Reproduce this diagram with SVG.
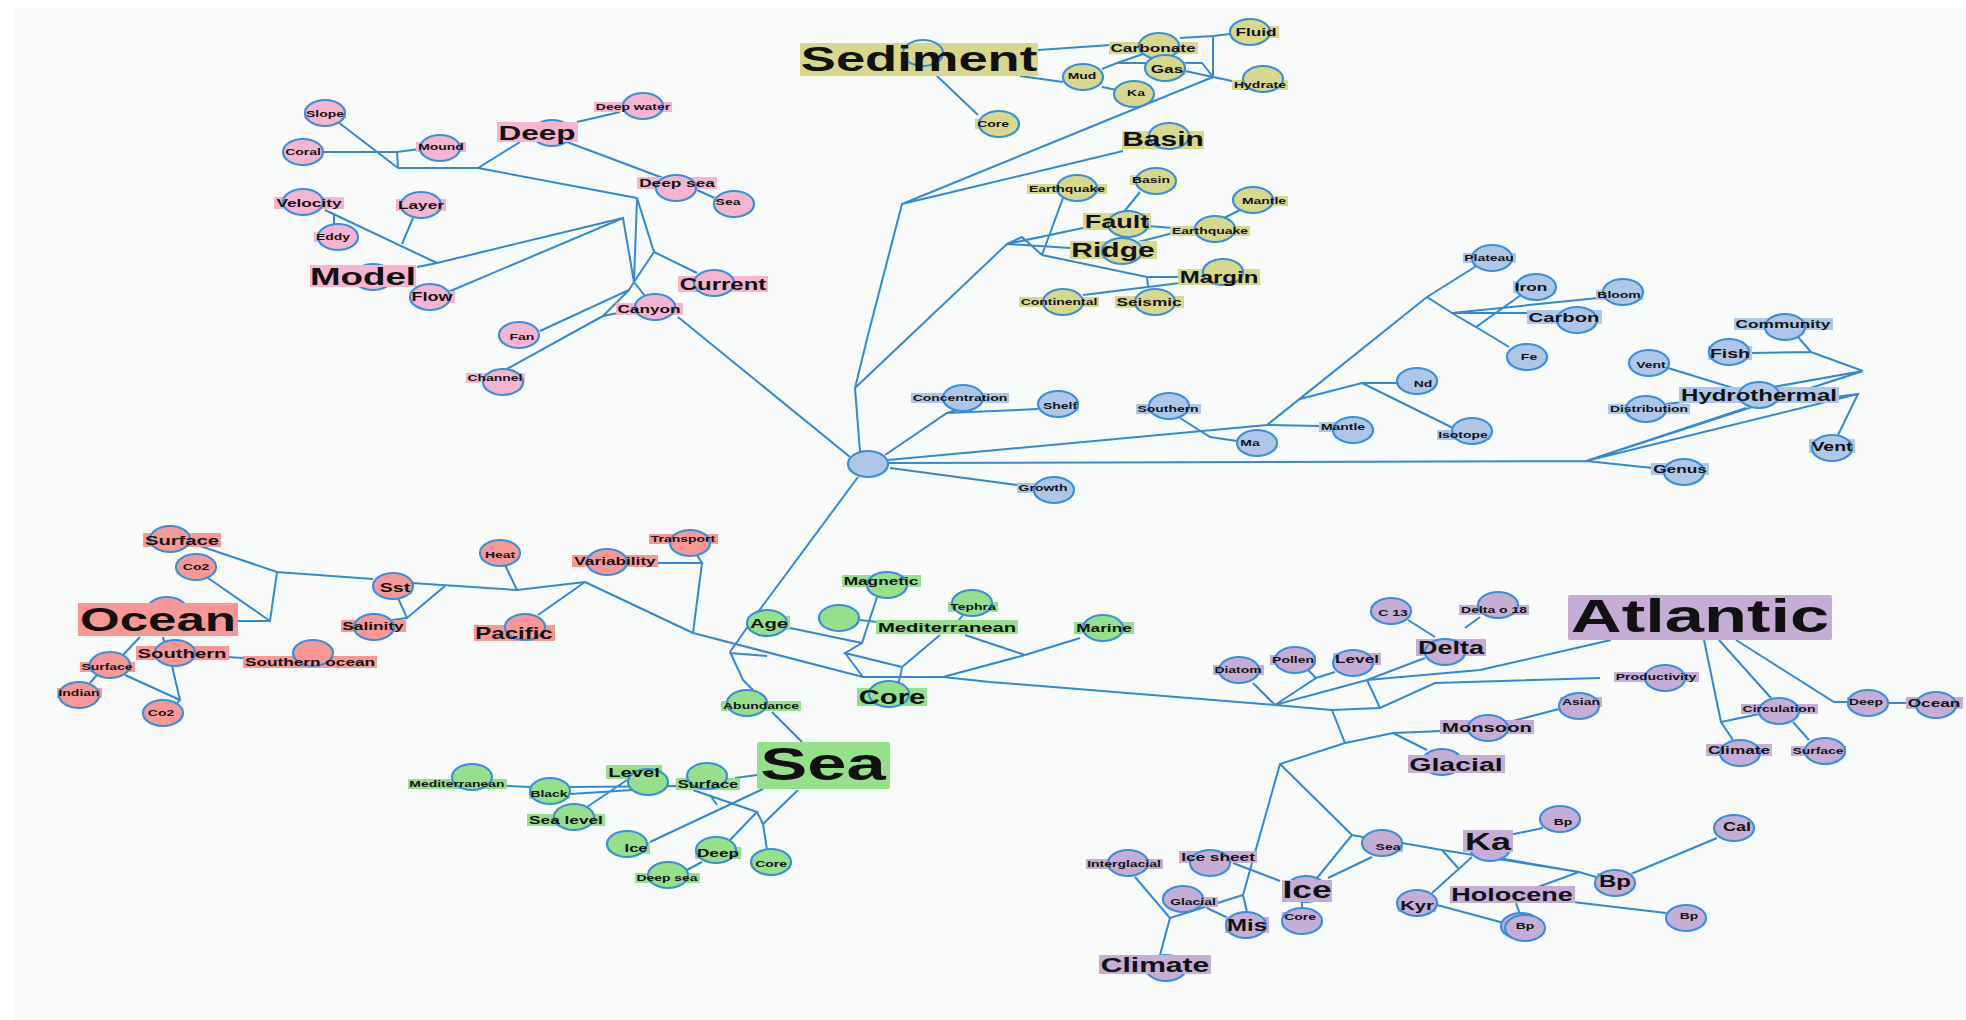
<svg xmlns="http://www.w3.org/2000/svg" width="1966" height="1020" viewBox="0 0 1966 1020">
<style>
text{font-family:"Liberation Sans",Arial,sans-serif;font-weight:bold;text-anchor:middle;fill:#111}
ellipse{stroke:#3a8edc;stroke-width:2.2}
#edges path{fill:none;stroke:#3388d4;stroke-width:2}
.pk ellipse,.pk rect{fill:#f5b5d0}
.yl ellipse,.yl rect{fill:#d8d88c}
.bl ellipse,.bl rect{fill:#aec7e9}
.sa ellipse,.sa rect{fill:#f89896}
.gr ellipse,.gr rect{fill:#96e08c}
.pu ellipse,.pu rect{fill:#c5add5}
.f9{font-size:9.3px}.f11{font-size:11.5px}.f12{font-size:12px}.f13{font-size:13px}.f135{font-size:13.5px}.f16{font-size:16px}.f18{font-size:18px}.f20{font-size:20px}
</style>
<rect width="1966" height="1020" fill="#ffffff"/>
<rect x="15" y="8" width="1951" height="1012" fill="#f9fbfb"/>
<g id="edges">
<path d="M338,122 L398,168 M323,152 L397,152 L420,149 M397,152 L398,168 M398,168 L478,168 L520,142 M478,168 L637,198 M577,122 L620,112 M567,142 L663,178 M697,190 L717,199 M637,198 L654,252 L697,273 M654,252 L634,282 M637,198 L634,282 M325,210 L437,263 M334,215 L334,228 M413,218 L402,244 M417,267 L437,263 L623,218 M448,292 L623,218 L634,282 M634,282 L629,290 L540,331 M634,282 L645,296 M629,290 L603,316 L618,313 M603,316 L505,370 M678,317 L850,457"/>
<path d="M937,76 L978,115 M860,452 L855,388 L868,335 L902,204 L1213,77 M902,204 L1123,151 M1038,50 L1140,43 M1020,76 L1063,82 M1102,69 L1117,63 L1143,54 M1117,63 L1202,63 L1213,77 M1180,38 L1213,36 L1230,34 M1213,36 L1213,77 M1185,71 L1213,77 L1237,82 M1102,87 L1117,90 M855,388 L1007,244 L1083,228 M1007,244 L1022,237 L1042,255 M1007,244 L1070,248 M1042,255 L1063,198 M1042,255 L1147,277 L1180,277 M1147,277 L1148,287 M1083,295 L1180,283 M1140,192 L1123,213 M1148,226 L1197,230 M1138,242 L1173,233 M1220,220 L1240,210"/>
<path d="M885,455 L947,413 L957,410 M947,413 L1038,409 M888,460 L1267,425 L1320,426 M1180,418 L1210,437 L1237,441 M1267,425 L1427,297 M1300,399 L1362,383 L1397,383 M1362,383 L1453,428 M1427,297 L1478,265 M1427,297 L1452,313 L1598,298 M1452,313 L1529,313 M1452,313 L1476,327 L1521,295 M1476,327 L1509,347 M888,463 L1586,461 M890,468 L1017,485 M1586,461 L1653,468 M1586,461 L1746,408 M1586,461 L1863,371 M1586,461 L1858,394 M1863,371 L1773,387 M1863,371 L1811,352 L1751,353 M1811,352 L1798,337 M1668,368 L1733,388 M1666,404 L1683,402 M1836,397 L1858,394 L1838,435"/>
<path d="M200,546 L277,572 M208,578 L270,621 M238,621 L270,621 L277,572 L373,579 M412,583 L517,590 L585,582 M505,565 L517,590 M398,598 L407,618 L445,586 M392,620 L407,618 M585,582 L538,615 M585,582 L693,633 M657,563 L702,563 L697,555 M702,563 L693,633 M140,637 L123,655 M163,637 L165,645 M227,657 L243,658 M97,675 L90,683 M125,675 L180,700 M172,666 L180,700 L177,703"/>
<path d="M858,477 L758,612 L730,652 L743,680 L753,690 M772,712 L802,742 M693,633 L863,677 M730,653 L767,656 M790,628 L862,643 M877,597 L862,643 L845,653 L902,667 M845,653 L863,677 M940,635 L902,667 L900,678 M863,677 L900,677 L943,677 L990,682 L1275,705 M900,677 L897,687 M943,677 L1025,655 M1080,638 L1025,655 M965,635 L1025,655 M963,615 L955,625 M860,620 L877,622 M757,775 L735,778 M763,789 L650,842 M798,790 L763,824 L767,850 M693,790 L757,812 L730,840 M757,812 L763,824 M710,795 L717,805 M627,780 L587,807 M490,785 L530,787 M570,787 L688,786 M570,794 L633,790 M702,862 L687,870"/>
<path d="M1253,683 L1275,705 L1367,680 L1425,658 M1367,680 L1480,670 L1611,640 M1367,680 L1380,708 M1275,705 L1332,710 L1380,708 L1435,683 L1600,678 M1275,705 L1316,678 L1308,670 M1316,678 L1335,672 M1408,620 L1435,637 M1465,628 L1480,617 M1332,710 L1345,743 L1393,733 L1442,731 M1393,733 L1427,750 M1345,743 L1280,764 L1243,895 L1247,912 M1280,764 L1352,835 L1363,837 M1352,835 L1317,878 M1372,857 L1328,878 M1402,843 L1442,850 L1579,872 L1596,877 M1442,850 L1458,868 M1432,893 L1472,857 M1493,857 L1579,872 M1509,835 L1543,828 M1538,887 L1579,872 M1631,874 L1717,838 M1573,902 L1666,913 M1516,903 L1521,917 M1437,905 L1504,923 M1233,863 L1280,881 M1135,877 L1170,918 L1160,955 M1170,918 L1243,895 M1207,908 L1228,918 M1302,902 L1302,908 M1704,640 L1721,722 L1733,740 M1721,722 L1759,714 M1719,640 L1771,698 M1736,640 L1834,702 L1848,702 M1888,703 L1908,703 M1793,722 L1809,740 M1509,722 L1559,709"/>
</g>
<g id="nodes">
<g id="n-slope" class="pk"><rect x="304" y="109" width="42" height="10"/><ellipse cx="325" cy="113" rx="20" ry="13"/><text class="f9" transform="matrix(1.5 0 0 1 325 117.3)">Slope</text></g>
<g id="n-coral" class="pk"><rect x="283" y="147" width="40" height="10"/><ellipse cx="303" cy="152" rx="20" ry="13"/><text class="f9" transform="matrix(1.5 0 0 1 303 155.3)">Coral</text></g>
<g id="n-mound" class="pk"><rect x="416" y="142" width="50" height="10"/><ellipse cx="440" cy="148" rx="20" ry="13"/><text class="f9" transform="matrix(1.5 0 0 1 441 150.3)">Mound</text></g>
<g id="n-deep" class="pk"><ellipse cx="552" cy="133" rx="20" ry="13"/><rect x="497" y="122" width="81" height="20"/><text style="font-size:21px" transform="matrix(1.5 0 0 1 537 139.6)">Deep</text></g>
<g id="n-deepwater" class="pk"><rect x="594" y="102" width="78" height="10"/><ellipse cx="643" cy="106" rx="20" ry="13"/><text class="f9" transform="matrix(1.5 0 0 1 633 110.3)">Deep water</text></g>
<g id="n-deepsea" class="pk"><rect x="637" y="177" width="80" height="12"/><ellipse cx="676" cy="188" rx="20" ry="13"/><text class="f11" transform="matrix(1.5 0 0 1 677 187.1)">Deep sea</text></g>
<g id="n-sea-pk" class="pk"><rect x="714" y="197" width="29" height="10"/><ellipse cx="734" cy="204" rx="20" ry="13"/><text class="f9" transform="matrix(1.5 0 0 1 728 205.3)">Sea</text></g>
<g id="n-velocity" class="pk"><rect x="274" y="197" width="70" height="12"/><ellipse cx="303" cy="202" rx="20" ry="13"/><text class="f11" transform="matrix(1.5 0 0 1 309 207.1)">Velocity</text></g>
<g id="n-layer" class="pk"><rect x="396" y="199" width="50" height="12"/><ellipse cx="421" cy="205" rx="20" ry="13"/><text class="f11" transform="matrix(1.5 0 0 1 421 209.1)">Layer</text></g>
<g id="n-eddy" class="pk"><rect x="314" y="232" width="38" height="10"/><ellipse cx="338" cy="237" rx="20" ry="13"/><text class="f9" transform="matrix(1.5 0 0 1 333 240.3)">Eddy</text></g>
<g id="n-model" class="pk"><ellipse cx="373" cy="277" rx="20" ry="13"/><rect x="310" y="265" width="106" height="22"/><text style="font-size:24.5px" transform="matrix(1.5 0 0 1 363 284.8)">Model</text></g>
<g id="n-flow" class="pk"><rect x="410" y="291" width="45" height="12"/><ellipse cx="430" cy="297" rx="20" ry="13"/><text class="f12" transform="matrix(1.5 0 0 1 432 301.3)">Flow</text></g>
<g id="n-current" class="pk"><rect x="678" y="276" width="90" height="16"/><ellipse cx="714" cy="283" rx="20" ry="13"/><text class="f16" transform="matrix(1.5 0 0 1 723 289.8)">Current</text></g>
<g id="n-canyon" class="pk"><rect x="616" y="303" width="67" height="12"/><ellipse cx="655" cy="307" rx="20" ry="13"/><text class="f11" transform="matrix(1.5 0 0 1 649 313.1)">Canyon</text></g>
<g id="n-fan" class="pk"><rect x="508" y="332" width="29" height="10"/><ellipse cx="519" cy="335" rx="20" ry="13"/><text class="f9" transform="matrix(1.5 0 0 1 522 340.3)">Fan</text></g>
<g id="n-channel" class="pk"><rect x="466" y="373" width="59" height="10"/><ellipse cx="503" cy="382" rx="20" ry="13"/><text class="f9" transform="matrix(1.5 0 0 1 495 381.3)">Channel</text></g>

<g id="n-sediment" class="yl"><rect x="800" y="43" width="238" height="33"/><ellipse cx="923" cy="53" rx="20" ry="13" fill="none" style="fill:none"/><text style="font-size:35px" transform="matrix(1.5 0 0 1 919 70.6)">Sediment</text></g>
<g id="n-carbonate" class="yl"><rect x="1109" y="42" width="89" height="12"/><ellipse cx="1159" cy="46" rx="20" ry="13"/><text class="f11" transform="matrix(1.5 0 0 1 1153 52.1)">Carbonate</text></g>
<g id="n-fluid" class="yl"><rect x="1234" y="26" width="45" height="12"/><ellipse cx="1250" cy="32" rx="20" ry="13"/><text class="f11" transform="matrix(1.5 0 0 1 1256 36.1)">Fluid</text></g>
<g id="n-gas" class="yl"><rect x="1149" y="63" width="37" height="12"/><ellipse cx="1165" cy="68" rx="20" ry="13"/><text class="f11" transform="matrix(1.5 0 0 1 1167 73.1)">Gas</text></g>
<g id="n-mud" class="yl"><rect x="1066" y="71" width="33" height="10"/><ellipse cx="1083" cy="77" rx="20" ry="13"/><text class="f9" transform="matrix(1.5 0 0 1 1082 79.3)">Mud</text></g>
<g id="n-ka-yl" class="yl"><rect x="1125" y="88" width="22" height="10"/><ellipse cx="1134" cy="94" rx="20" ry="13"/><text class="f9" transform="matrix(1.5 0 0 1 1136 96.3)">Ka</text></g>
<g id="n-hydrate" class="yl"><rect x="1232" y="80" width="56" height="10"/><ellipse cx="1263" cy="79" rx="20" ry="13"/><text class="f9" transform="matrix(1.5 0 0 1 1260 88.3)">Hydrate</text></g>
<g id="n-core-yl" class="yl"><rect x="975" y="119" width="36" height="10"/><ellipse cx="999" cy="124" rx="20" ry="13"/><text class="f9" transform="matrix(1.5 0 0 1 993 127.3)">Core</text></g>
<g id="n-basin" class="yl"><rect x="1122" y="131" width="82" height="18"/><ellipse cx="1169" cy="136" rx="20" ry="13"/><text class="f20" transform="matrix(1.5 0 0 1 1163 146.2)">Basin</text></g>
<g id="n-earthquake1" class="yl"><rect x="1027" y="184" width="80" height="10"/><ellipse cx="1077" cy="188" rx="20" ry="13"/><text class="f9" transform="matrix(1.5 0 0 1 1067 192.3)">Earthquake</text></g>
<g id="n-basin2" class="yl"><rect x="1130" y="175" width="42" height="10"/><ellipse cx="1156" cy="181" rx="20" ry="13"/><text class="f9" transform="matrix(1.5 0 0 1 1151 183.3)">Basin</text></g>
<g id="n-mantle-yl" class="yl"><rect x="1240" y="196" width="48" height="10"/><ellipse cx="1253" cy="200" rx="20" ry="13"/><text class="f9" transform="matrix(1.5 0 0 1 1264 204.3)">Mantle</text></g>
<g id="n-fault" class="yl"><rect x="1083" y="213" width="68" height="17"/><ellipse cx="1128" cy="224" rx="20" ry="13"/><text class="f18" transform="matrix(1.5 0 0 1 1117 227.5)">Fault</text></g>
<g id="n-earthquake2" class="yl"><rect x="1170" y="226" width="80" height="10"/><ellipse cx="1215" cy="229" rx="20" ry="13"/><text class="f9" transform="matrix(1.5 0 0 1 1210 234.3)">Earthquake</text></g>
<g id="n-ridge" class="yl"><rect x="1070" y="241" width="87" height="18"/><ellipse cx="1122" cy="251" rx="20" ry="13"/><text class="f20" transform="matrix(1.5 0 0 1 1113 257.2)">Ridge</text></g>
<g id="n-margin" class="yl"><rect x="1178" y="269" width="82" height="16"/><ellipse cx="1223" cy="272" rx="20" ry="13"/><text class="f16" transform="matrix(1.5 0 0 1 1219 282.8)">Margin</text></g>
<g id="n-continental" class="yl"><rect x="1019" y="297" width="80" height="10"/><ellipse cx="1063" cy="302" rx="20" ry="13"/><text class="f9" transform="matrix(1.5 0 0 1 1059 305.3)">Continental</text></g>
<g id="n-seismic" class="yl"><rect x="1115" y="296" width="69" height="12"/><ellipse cx="1155" cy="302" rx="20" ry="13"/><text class="f11" transform="matrix(1.5 0 0 1 1149 306.1)">Seismic</text></g>

<g id="n-center" class="bl"><ellipse cx="868" cy="464" rx="20" ry="13"/></g>
<g id="n-concentration" class="bl"><rect x="911" y="393" width="98" height="10"/><ellipse cx="963" cy="398" rx="20" ry="13"/><text class="f9" transform="matrix(1.5 0 0 1 960 401.3)">Concentration</text></g>
<g id="n-shelf" class="bl"><rect x="1041" y="401" width="38" height="10"/><ellipse cx="1058" cy="404" rx="20" ry="13"/><text class="f9" transform="matrix(1.5 0 0 1 1060 409.3)">Shelf</text></g>
<g id="n-southern-bl" class="bl"><rect x="1136" y="404" width="65" height="10"/><ellipse cx="1169" cy="406" rx="20" ry="13"/><text class="f9" transform="matrix(1.5 0 0 1 1168 412.3)">Southern</text></g>
<g id="n-ma" class="bl"><rect x="1239" y="438" width="23" height="10"/><ellipse cx="1257" cy="443" rx="20" ry="13"/><text class="f9" transform="matrix(1.5 0 0 1 1250 446.3)">Ma</text></g>
<g id="n-mantle-bl" class="bl"><rect x="1319" y="422" width="48" height="10"/><ellipse cx="1353" cy="430" rx="20" ry="13"/><text class="f9" transform="matrix(1.5 0 0 1 1343 430.3)">Mantle</text></g>
<g id="n-nd" class="bl"><rect x="1412" y="379" width="22" height="10"/><ellipse cx="1417" cy="381" rx="20" ry="13"/><text class="f9" transform="matrix(1.5 0 0 1 1423 387.3)">Nd</text></g>
<g id="n-isotope" class="bl"><rect x="1437" y="430" width="53" height="10"/><ellipse cx="1472" cy="431" rx="20" ry="13"/><text class="f9" transform="matrix(1.5 0 0 1 1463 438.3)">Isotope</text></g>
<g id="n-growth" class="bl"><rect x="1017" y="483" width="53" height="10"/><ellipse cx="1054" cy="490" rx="20" ry="13"/><text class="f9" transform="matrix(1.5 0 0 1 1043 491.3)">Growth</text></g>
<g id="n-plateau" class="bl"><rect x="1463" y="253" width="53" height="10"/><ellipse cx="1492" cy="258" rx="20" ry="13"/><text class="f9" transform="matrix(1.5 0 0 1 1489 261.3)">Plateau</text></g>
<g id="n-iron" class="bl"><rect x="1513" y="281" width="36" height="12"/><ellipse cx="1536" cy="287" rx="20" ry="13"/><text class="f11" transform="matrix(1.5 0 0 1 1531 291.1)">Iron</text></g>
<g id="n-bloom" class="bl"><rect x="1596" y="290" width="47" height="10"/><ellipse cx="1623" cy="292" rx="20" ry="13"/><text class="f9" transform="matrix(1.5 0 0 1 1619 298.3)">Bloom</text></g>
<g id="n-carbon" class="bl"><rect x="1527" y="310" width="75" height="14"/><ellipse cx="1577" cy="320" rx="20" ry="13"/><text class="f135" transform="matrix(1.5 0 0 1 1564 321.9)">Carbon</text></g>
<g id="n-fe" class="bl"><rect x="1519" y="352" width="20" height="10"/><ellipse cx="1527" cy="357" rx="20" ry="13"/><text class="f9" transform="matrix(1.5 0 0 1 1529 360.3)">Fe</text></g>
<g id="n-community" class="bl"><rect x="1734" y="318" width="99" height="12"/><ellipse cx="1785" cy="327" rx="20" ry="13"/><text class="f11" transform="matrix(1.5 0 0 1 1783 328.1)">Community</text></g>
<g id="n-fish" class="bl"><rect x="1708" y="346" width="44" height="14"/><ellipse cx="1729" cy="352" rx="20" ry="13"/><text class="f13" transform="matrix(1.5 0 0 1 1730 357.7)">Fish</text></g>
<g id="n-vent1" class="bl"><rect x="1634" y="360" width="34" height="10"/><ellipse cx="1649" cy="363" rx="20" ry="13"/><text class="f9" transform="matrix(1.5 0 0 1 1651 368.3)">Vent</text></g>
<g id="n-hydrothermal" class="bl"><rect x="1679" y="387" width="160" height="16"/><ellipse cx="1759" cy="395" rx="20" ry="13"/><text class="f16" transform="matrix(1.5 0 0 1 1759 400.8)">Hydrothermal</text></g>
<g id="n-distribution" class="bl"><rect x="1608" y="404" width="82" height="10"/><ellipse cx="1646" cy="409" rx="20" ry="13"/><text class="f9" transform="matrix(1.5 0 0 1 1649 412.3)">Distribution</text></g>
<g id="n-vent2" class="bl"><rect x="1809" y="439" width="46" height="14"/><ellipse cx="1832" cy="448" rx="20" ry="13"/><text class="f13" transform="matrix(1.5 0 0 1 1832 450.7)">Vent</text></g>
<g id="n-genus" class="bl"><rect x="1651" y="463" width="58" height="12"/><ellipse cx="1684" cy="472" rx="20" ry="13"/><text class="f11" transform="matrix(1.5 0 0 1 1680 473.1)">Genus</text></g>

<g id="n-surface-sa" class="sa"><rect x="143" y="533" width="78" height="14"/><ellipse cx="170" cy="539" rx="20" ry="13"/><text class="f135" transform="matrix(1.5 0 0 1 182 544.9)">Surface</text></g>
<g id="n-co2a" class="sa"><rect x="181" y="562" width="30" height="10"/><ellipse cx="196" cy="567" rx="20" ry="13"/><text class="f9" transform="matrix(1.5 0 0 1 196 570.3)">Co2</text></g>
<g id="n-ocean" class="sa"><ellipse cx="167" cy="610" rx="20" ry="13"/><rect x="78" y="603" width="160" height="33"/><text style="font-size:34px" transform="matrix(1.5 0 0 1 158 631.2)">Ocean</text></g>
<g id="n-southern-sa" class="sa"><rect x="136" y="646" width="93" height="14"/><ellipse cx="175" cy="653" rx="20" ry="13"/><text class="f135" transform="matrix(1.5 0 0 1 182 657.9)">Southern</text></g>
<g id="n-surface-sa2" class="sa"><rect x="80" y="662" width="55" height="10"/><ellipse cx="110" cy="665" rx="20" ry="13"/><text class="f9" transform="matrix(1.5 0 0 1 107 670.3)">Surface</text></g>
<g id="n-southernocean" class="sa"><rect x="243" y="656" width="134" height="12"/><ellipse cx="313" cy="653" rx="20" ry="13"/><text class="f11" transform="matrix(1.5 0 0 1 310 666.1)">Southern ocean</text></g>
<g id="n-indian" class="sa"><rect x="57" y="688" width="45" height="10"/><ellipse cx="79" cy="695" rx="20" ry="13"/><text class="f9" transform="matrix(1.5 0 0 1 79 696.3)">Indian</text></g>
<g id="n-co2b" class="sa"><rect x="146" y="708" width="30" height="10"/><ellipse cx="163" cy="713" rx="20" ry="13"/><text class="f9" transform="matrix(1.5 0 0 1 161 716.3)">Co2</text></g>
<g id="n-sst" class="sa"><rect x="378" y="580" width="34" height="14"/><ellipse cx="393" cy="586" rx="20" ry="13"/><text class="f13" transform="matrix(1.5 0 0 1 395 591.7)">Sst</text></g>
<g id="n-salinity" class="sa"><rect x="341" y="620" width="65" height="12"/><ellipse cx="374" cy="627" rx="20" ry="13"/><text class="f11" transform="matrix(1.5 0 0 1 373 630.1)">Salinity</text></g>
<g id="n-heat" class="sa"><rect x="483" y="550" width="34" height="10"/><ellipse cx="500" cy="553" rx="20" ry="13"/><text class="f9" transform="matrix(1.5 0 0 1 500 558.3)">Heat</text></g>
<g id="n-pacific" class="sa"><rect x="474" y="625" width="81" height="16"/><ellipse cx="525" cy="627" rx="20" ry="13"/><text class="f16" transform="matrix(1.5 0 0 1 514 638.8)">Pacific</text></g>
<g id="n-variability" class="sa"><rect x="572" y="555" width="86" height="12"/><ellipse cx="607" cy="562" rx="20" ry="13"/><text class="f11" transform="matrix(1.5 0 0 1 615 565.1)">Variability</text></g>
<g id="n-transport" class="sa"><rect x="649" y="534" width="69" height="10"/><ellipse cx="690" cy="543" rx="20" ry="13"/><text class="f9" transform="matrix(1.5 0 0 1 683 542.3)">Transport</text></g>

<g id="n-age" class="gr"><rect x="748" y="616" width="42" height="14"/><ellipse cx="767" cy="623" rx="20" ry="13"/><text class="f135" transform="matrix(1.5 0 0 1 769 627.9)">Age</text></g>
<g id="n-magnetic" class="gr"><rect x="842" y="575" width="79" height="12"/><ellipse cx="887" cy="585" rx="20" ry="13"/><text class="f11" transform="matrix(1.5 0 0 1 881 585.1)">Magnetic</text></g>
<g id="n-tephra" class="gr"><rect x="948" y="602" width="50" height="10"/><ellipse cx="972" cy="603" rx="20" ry="13"/><text class="f9" transform="matrix(1.5 0 0 1 973 610.3)">Tephra</text></g>
<g id="n-mediterranean" class="gr"><ellipse cx="839" cy="618" rx="20" ry="13"/><rect x="876" y="620" width="142" height="14"/><text class="f135" transform="matrix(1.5 0 0 1 947 631.9)">Mediterranean</text></g>
<g id="n-marine" class="gr"><rect x="1074" y="622" width="60" height="12"/><ellipse cx="1103" cy="628" rx="20" ry="13"/><text class="f11" transform="matrix(1.5 0 0 1 1104 632.1)">Marine</text></g>
<g id="n-core-gr" class="gr"><rect x="857" y="688" width="70" height="18"/><ellipse cx="889" cy="694" rx="20" ry="13"/><text style="font-size:19.5px" transform="matrix(1.5 0 0 1 892 704)">Core</text></g>
<g id="n-abundance" class="gr"><rect x="721" y="701" width="80" height="10"/><ellipse cx="747" cy="703" rx="20" ry="13"/><text class="f9" transform="matrix(1.5 0 0 1 761 709.3)">Abundance</text></g>
<g id="n-sea" class="gr"><rect x="757" y="742" width="133" height="47" rx="2"/><text style="font-size:47px" transform="matrix(1.5 0 0 1 823 780)">Sea</text></g>
<g id="n-mediterranean2" class="gr"><rect x="408" y="779" width="99" height="10"/><ellipse cx="472" cy="777" rx="20" ry="13"/><text class="f9" transform="matrix(1.5 0 0 1 457 787.3)">Mediterranean</text></g>
<g id="n-black" class="gr"><rect x="529" y="789" width="41" height="10"/><ellipse cx="550" cy="791" rx="20" ry="13"/><text class="f9" transform="matrix(1.5 0 0 1 549 797.3)">Black</text></g>
<g id="n-level-gr" class="gr"><rect x="606" y="765" width="56" height="14"/><ellipse cx="648" cy="782" rx="20" ry="13"/><text class="f135" transform="matrix(1.5 0 0 1 634 776.9)">Level</text></g>
<g id="n-surface-gr" class="gr"><rect x="676" y="778" width="64" height="12"/><ellipse cx="707" cy="776" rx="20" ry="13"/><text style="font-size:11px" transform="matrix(1.5 0 0 1 708 788)">Surface</text></g>
<g id="n-sealevel" class="gr"><rect x="527" y="814" width="78" height="12"/><ellipse cx="574" cy="817" rx="20" ry="13"/><text class="f11" transform="matrix(1.5 0 0 1 566 824.1)">Sea level</text></g>
<g id="n-ice-gr" class="gr"><rect x="623" y="842" width="27" height="12"/><ellipse cx="627" cy="844" rx="20" ry="13"/><text style="font-size:11px" transform="matrix(1.5 0 0 1 636 852)">Ice</text></g>
<g id="n-deep-gr" class="gr"><rect x="695" y="847" width="46" height="12"/><ellipse cx="716" cy="850" rx="20" ry="13"/><text class="f11" transform="matrix(1.5 0 0 1 718 857.1)">Deep</text></g>
<g id="n-deepsea-gr" class="gr"><rect x="635" y="873" width="65" height="10"/><ellipse cx="668" cy="875" rx="20" ry="13"/><text class="f9" transform="matrix(1.5 0 0 1 667 881.3)">Deep sea</text></g>
<g id="n-core-gr2" class="gr"><rect x="753" y="859" width="36" height="10"/><ellipse cx="771" cy="862" rx="20" ry="13"/><text class="f9" transform="matrix(1.5 0 0 1 771 867.3)">Core</text></g>

<g id="n-atlantic" class="pu"><rect x="1568" y="595" width="264" height="45" rx="2"/><text style="font-size:47px" transform="matrix(1.5 0 0 1 1700 632)">Atlantic</text></g>
<g id="n-c13" class="pu"><rect x="1377" y="608" width="33" height="10"/><ellipse cx="1391" cy="611" rx="20" ry="13"/><text class="f9" transform="matrix(1.5 0 0 1 1393 616.3)">C 13</text></g>
<g id="n-deltao18" class="pu"><rect x="1459" y="605" width="70" height="10"/><ellipse cx="1498" cy="605" rx="20" ry="13"/><text class="f9" transform="matrix(1.5 0 0 1 1494 613.3)">Delta o 18</text></g>
<g id="n-delta" class="pu"><rect x="1416" y="639" width="70" height="17"/><ellipse cx="1445" cy="652" rx="20" ry="13"/><text class="f18" transform="matrix(1.5 0 0 1 1451 653.5)">Delta</text></g>
<g id="n-diatom" class="pu"><rect x="1213" y="665" width="51" height="10"/><ellipse cx="1239" cy="670" rx="20" ry="13"/><text class="f9" transform="matrix(1.5 0 0 1 1238 673.3)">Diatom</text></g>
<g id="n-pollen" class="pu"><rect x="1270" y="655" width="46" height="10"/><ellipse cx="1295" cy="660" rx="20" ry="13"/><text class="f9" transform="matrix(1.5 0 0 1 1293 663.3)">Pollen</text></g>
<g id="n-level-pu" class="pu"><rect x="1333" y="653" width="48" height="12"/><ellipse cx="1353" cy="663" rx="20" ry="13"/><text class="f11" transform="matrix(1.5 0 0 1 1357 663.1)">Level</text></g>
<g id="n-productivity" class="pu"><rect x="1614" y="672" width="85" height="10"/><ellipse cx="1665" cy="678" rx="20" ry="13"/><text class="f9" transform="matrix(1.5 0 0 1 1656 680.3)">Productivity</text></g>
<g id="n-monsoon" class="pu"><rect x="1440" y="720" width="94" height="14"/><ellipse cx="1488" cy="728" rx="20" ry="13"/><text class="f135" transform="matrix(1.5 0 0 1 1487 731.9)">Monsoon</text></g>
<g id="n-asian" class="pu"><rect x="1560" y="697" width="42" height="10"/><ellipse cx="1579" cy="706" rx="20" ry="13"/><text class="f9" transform="matrix(1.5 0 0 1 1581 705.3)">Asian</text></g>
<g id="n-glacial" class="pu"><ellipse cx="1442" cy="762" rx="20" ry="13"/><rect x="1408" y="755" width="97" height="18"/><text style="font-size:19px" transform="matrix(1.5 0 0 1 1456 770.8)">Glacial</text></g>
<g id="n-circulation" class="pu"><rect x="1741" y="704" width="77" height="10"/><ellipse cx="1779" cy="711" rx="20" ry="13"/><text class="f9" transform="matrix(1.5 0 0 1 1779 712.3)">Circulation</text></g>
<g id="n-deep-pu" class="pu"><rect x="1847" y="697" width="38" height="10"/><ellipse cx="1868" cy="703" rx="20" ry="13"/><text class="f9" transform="matrix(1.5 0 0 1 1866 705.3)">Deep</text></g>
<g id="n-ocean-pu" class="pu"><rect x="1906" y="697" width="57" height="12"/><ellipse cx="1936" cy="705" rx="20" ry="13"/><text class="f11" transform="matrix(1.5 0 0 1 1934 707.1)">Ocean</text></g>
<g id="n-climate-pu" class="pu"><rect x="1706" y="744" width="66" height="12"/><ellipse cx="1740" cy="753" rx="20" ry="13"/><text class="f11" transform="matrix(1.5 0 0 1 1739 754.1)">Climate</text></g>
<g id="n-surface-pu" class="pu"><rect x="1791" y="746" width="55" height="10"/><ellipse cx="1825" cy="751" rx="20" ry="13"/><text class="f9" transform="matrix(1.5 0 0 1 1818 754.3)">Surface</text></g>
<g id="n-sea-pu" class="pu"><rect x="1374" y="842" width="29" height="10"/><ellipse cx="1382" cy="843" rx="20" ry="13"/><text class="f9" transform="matrix(1.5 0 0 1 1388 850.3)">Sea</text></g>
<g id="n-ka" class="pu"><ellipse cx="1490" cy="848" rx="20" ry="13"/><rect x="1463" y="830" width="50" height="22"/><text style="font-size:24px" transform="matrix(1.5 0 0 1 1488 849.6)">Ka</text></g>
<g id="n-bp1" class="pu"><rect x="1552" y="817" width="23" height="10"/><ellipse cx="1560" cy="819" rx="20" ry="13"/><text class="f9" transform="matrix(1.5 0 0 1 1563 825.3)">Bp</text></g>
<g id="n-cal" class="pu"><rect x="1721" y="821" width="32" height="12"/><ellipse cx="1734" cy="828" rx="20" ry="13"/><text class="f12" transform="matrix(1.5 0 0 1 1737 831.3)">Cal</text></g>
<g id="n-bp2" class="pu"><rect x="1597" y="873" width="36" height="16"/><ellipse cx="1615" cy="883" rx="20" ry="13"/><text class="f16" transform="matrix(1.5 0 0 1 1615 886.8)">Bp</text></g>
<g id="n-holocene" class="pu"><rect x="1450" y="886" width="125" height="17"/><text class="f18" transform="matrix(1.5 0 0 1 1512 900.5)">Holocene</text></g>
<g id="n-bp3" class="pu"><rect x="1678" y="911" width="23" height="10"/><ellipse cx="1686" cy="918" rx="20" ry="13"/><text class="f9" transform="matrix(1.5 0 0 1 1689 919.3)">Bp</text></g>
<g id="n-bp4" class="pu"><ellipse cx="1521" cy="926" rx="20" ry="13"/><rect x="1514" y="921" width="23" height="10"/><ellipse cx="1525" cy="928" rx="20" ry="13"/><text class="f9" transform="matrix(1.5 0 0 1 1525 929.3)">Bp</text></g>
<g id="n-kyr" class="pu"><rect x="1398" y="898" width="38" height="14"/><ellipse cx="1417" cy="903" rx="20" ry="13"/><text class="f135" transform="matrix(1.5 0 0 1 1417 909.9)">Kyr</text></g>
<g id="n-interglacial" class="pu"><rect x="1086" y="859" width="77" height="10"/><ellipse cx="1128" cy="863" rx="20" ry="13"/><text class="f9" transform="matrix(1.5 0 0 1 1124 867.3)">Interglacial</text></g>
<g id="n-icesheet" class="pu"><rect x="1179" y="851" width="78" height="12"/><ellipse cx="1210" cy="863" rx="20" ry="13"/><text class="f11" transform="matrix(1.5 0 0 1 1218 861.1)">Ice sheet</text></g>
<g id="n-glacial2" class="pu"><rect x="1168" y="897" width="50" height="10"/><ellipse cx="1183" cy="899" rx="20" ry="13"/><text class="f9" transform="matrix(1.5 0 0 1 1193 905.3)">Glacial</text></g>
<g id="n-mis" class="pu"><rect x="1225" y="917" width="44" height="16"/><ellipse cx="1246" cy="925" rx="20" ry="13"/><text class="f16" transform="matrix(1.5 0 0 1 1247 930.8)">Mis</text></g>
<g id="n-ice" class="pu"><ellipse cx="1306" cy="889" rx="20" ry="13"/><rect x="1282" y="880" width="50" height="22"/><text style="font-size:23.5px" transform="matrix(1.5 0 0 1 1307 897.5)">Ice</text></g>
<g id="n-core-pu" class="pu"><rect x="1282" y="912" width="36" height="10"/><ellipse cx="1302" cy="921" rx="20" ry="13"/><text class="f9" transform="matrix(1.5 0 0 1 1300 920.3)">Core</text></g>
<g id="n-climate" class="pu"><ellipse cx="1166" cy="968" rx="20" ry="13"/><rect x="1099" y="955" width="112" height="19"/><text class="f20" transform="matrix(1.5 0 0 1 1155 972.2)">Climate</text></g>
</g>
</svg>
